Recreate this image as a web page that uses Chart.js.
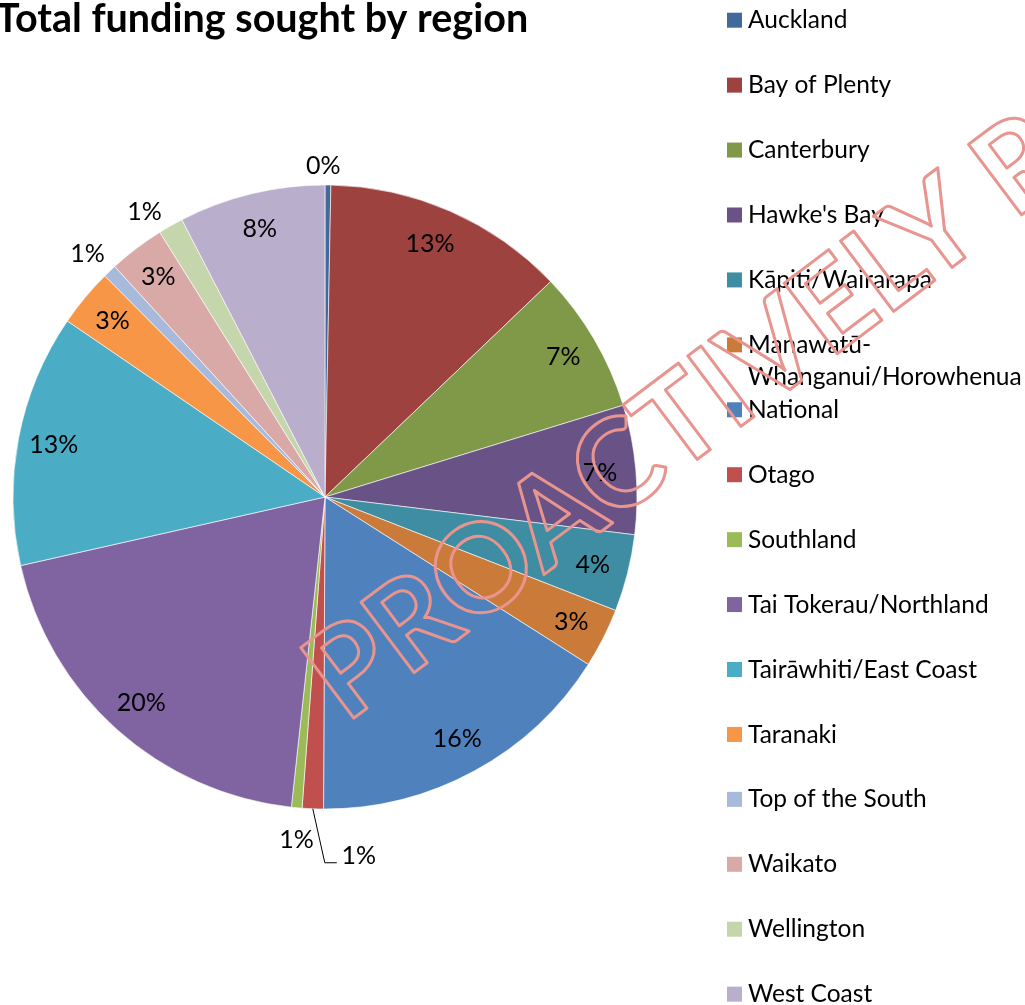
<!DOCTYPE html>
<html>
<head>
<meta charset="utf-8">
<script src="https://cdn.jsdelivr.net/npm/chart.js@4.4.1/dist/chart.umd.min.js"></script>
<style>
  html, body { margin: 0; padding: 0; background: #fff; overflow: hidden; }
  /* the title in the original is cut a little at the left edge */
  #wrap { position: absolute; left: -4px; top: 0; width: 1029px; height: 1005px; }
</style>
</head>
<body>
<div id="wrap"><canvas id="fundingChart"></canvas></div>
<script>
// ===== Total funding sought by region (pie) =====

const regions = [
  "Auckland", "Bay of Plenty", "Canterbury", "Hawke's Bay", "Kāpiti/Wairarapa",
  "Manawatū-Whanganui/Horowhenua", "National", "Otago", "Southland",
  "Tai Tokerau/Northland", "Tairāwhiti/East Coast", "Taranaki", "Top of the South",
  "Waikato", "Wellington", "West Coast"
];

// share of total funding sought, %
const fundingShare = [
  0.3, 12.6, 7.4, 6.7, 4.0,
  3.1, 16.1, 1.1, 0.55,
  19.8, 13.1, 3.0, 0.7,
  2.9, 1.3, 7.6
];

const sliceColours = [
  "#416A9B", "#9D423F", "#7F9949", "#695285", "#3E8DA2",
  "#CB7B39", "#4F81BD", "#C0504D", "#9BBB59",
  "#8064A2", "#4BACC6", "#F79646", "#A8BADB",
  "#D9A9A8", "#C6D6AC", "#B9AECB"
];

const FONT = "Lato, 'Open Sans', sans-serif";

// percentage labels, inside or just outside each slice
const pctLabels = {
  id: "pctLabels",
  afterDatasetsDraw(chart, args, opts) {
    const meta = chart.getDatasetMeta(0);
    const values = chart.data.datasets[0].data;
    const total = values.reduce((a, b) => a + b, 0);
    const ctx = chart.ctx;
    ctx.save();
    ctx.font = opts.font;
    ctx.fillStyle = "#000";
    ctx.strokeStyle = "#000";
    ctx.lineWidth = 1;
    ctx.textAlign = "center";
    ctx.textBaseline = "middle";
    meta.data.forEach((arc, i) => {
      const p = arc.getProps(["x", "y", "startAngle", "endAngle", "outerRadius"], true);
      const mid = (p.startAngle + p.endAngle) / 2;
      const txt = Math.round(values[i] / total * 100) + "%";
      const mode = opts.placement[i];
      const nudge = opts.nudge[i] || [0, 0];
      if (mode === "leader") {
        const ex = p.x + Math.cos(mid) * p.outerRadius;
        const ey = p.y + Math.sin(mid) * p.outerRadius;
        const L = opts.leader;
        ctx.beginPath();
        ctx.moveTo(ex, ey);
        ctx.lineTo(ex + L.elbow[0], ey + L.elbow[1]);
        ctx.lineTo(ex + L.end[0], ey + L.end[1]);
        ctx.stroke();
        ctx.fillText(txt, ex + L.text[0], ey + L.text[1]);
      } else {
        const r = mode === "in" ? p.outerRadius * opts.inside : p.outerRadius + opts.outside;
        ctx.fillText(txt, p.x + Math.cos(mid) * r + nudge[0], p.y + Math.sin(mid) * r + nudge[1]);
      }
    });
    ctx.restore();
  }
};

// legend spread down the right side, like the spreadsheet one
const sideLegend = {
  id: "sideLegend",
  afterDraw(chart, args, opts) {
    const ctx = chart.ctx;
    const labels = chart.data.labels;
    const colours = chart.data.datasets[0].backgroundColor;
    ctx.save();
    ctx.font = opts.font;
    ctx.textAlign = "left";
    ctx.textBaseline = "alphabetic";
    labels.forEach((lab, i) => {
      const top = opts.top + opts.step * i;
      ctx.fillStyle = colours[i];
      ctx.fillRect(opts.x, top, opts.box, opts.box);
      ctx.fillStyle = "#000";
      let lines = [lab];
      if (ctx.measureText(lab).width > opts.maxWidth && lab.includes("-")) {
        const k = lab.indexOf("-") + 1;
        lines = [lab.slice(0, k), lab.slice(k)];
      }
      lines.forEach((ln, j) => {
        ctx.fillText(ln, opts.x + opts.box + opts.gap, top + opts.baseline + j * opts.lineGap);
      });
    });
    ctx.restore();
  }
};

// "PROACTIVELY RELEASED" outline stamp
const stamp = {
  id: "stamp",
  afterDraw(chart, args, opts) {
    const ctx = chart.ctx;
    ctx.save();
    ctx.translate(opts.x, opts.y);
    ctx.rotate(opts.angle * Math.PI / 180);
    ctx.font = opts.font;
    ctx.lineWidth = 3;
    ctx.lineJoin = "round";
    ctx.strokeStyle = opts.colour;
    ctx.textBaseline = "alphabetic";
    ctx.strokeText(opts.text, 0, 0);
    ctx.restore();
  }
};

new Chart(document.getElementById("fundingChart"), {
  type: "pie",
  data: {
    labels: regions,
    datasets: [{
      data: fundingShare,
      backgroundColor: sliceColours,
      borderColor: "rgba(255,255,255,0.6)",
      borderWidth: 1,
      radius: 312
    }]
  },
  options: {
    responsive: true,
    maintainAspectRatio: false,
    animation: false,
    layout: { padding: { left: 0, top: 0, right: 371, bottom: 50.5 } },
    plugins: {
      legend: { display: false },
      tooltip: { enabled: false },
      title: {
        display: true,
        text: "Total funding sought by region",
        align: "start",
        color: "#000",
        font: { family: FONT, size: 39.5, weight: "bold", lineHeight: 1 },
        padding: { top: 0, bottom: 0 }
      },
      pctLabels: {
        font: "25px " + FONT,
        inside: 0.885,
        outside: 25,
        placement: ["out", "in", "in", "in", "in", "in", "in", "leader", "out",
                    "in", "in", "in", "out", "in", "out", "in"],
        nudge: { 0: [-5, 6], 1: [-6, 0], 8: [2, 7], 12: [-5, 1], 14: [-14, 8] },
        leader: { elbow: [12, 54], end: [24, 54], text: [46, 47] }
      },
      sideLegend: {
        font: "24.5px " + FONT,
        x: 731, top: 12.7, step: 64.93, box: 15, gap: 6,
        baseline: 15.6, lineGap: 32, maxWidth: 290
      },
      stamp: {
        text: "PROACTIVELY RELEASED",
        font: "bold 122px " + FONT,
        colour: "#E8948F",
        x: 350, y: 724, angle: -37
      }
    }
  },
  plugins: [pctLabels, sideLegend, stamp]
});
</script>
</body>
</html>
